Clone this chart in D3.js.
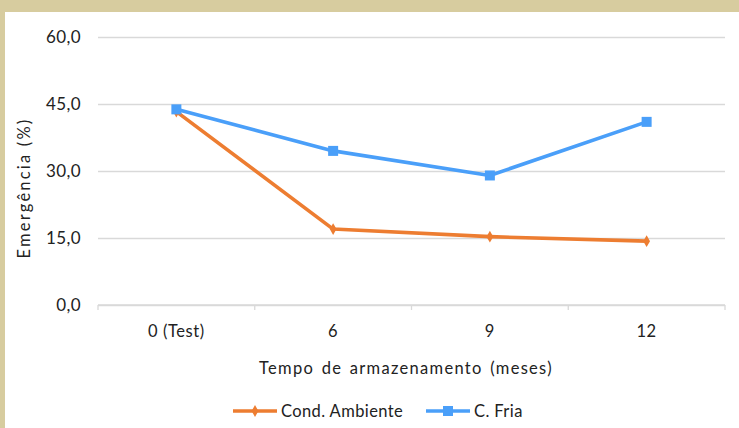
<!DOCTYPE html>
<html>
  <head>
    <meta charset="utf-8">
    <script src="https://d3js.org/d3.v7.min.js"></script>
    <style>
      body { margin: 0px; background: #D7CC9F; }
      svg { position: absolute; left: 5px; top: 12px; background: #fff; }
      .domain { display: none; }
      text { font-family: Lato, "Open Sans", sans-serif; fill: #222; }
    </style>
  </head>
  <body>
    <svg width="734" height="416"></svg>
    <script>
      const categories = ['0 (Test)', '6', '9', '12'];
      const ambiente = [43.3, 17.0, 15.3, 14.3];
      const fria = [43.8, 34.5, 29.0, 41.0];
      const yTicks = [0, 15, 30, 45, 60];
      const seriesNames = ['Cond. Ambiente', 'C. Fria'];
      const colors = ['#ED7D31', '#4A9FF9'];

      // page coordinates; the svg sits 5px right and 12px down inside the frame
      const root = d3.select('svg').append('g').attr('transform', 'translate(-5,-12)');

      const margin = { left: 98, top: 37, right: 14, bottom: 123 };
      const innerWidth = 739 - margin.left - margin.right;
      const innerHeight = 428 - margin.top - margin.bottom;

      const g = root.append('g').attr('transform', `translate(${margin.left},${margin.top})`);

      const xScale = d3.scaleBand().domain(categories).range([0, innerWidth]);
      const yScale = d3.scaleLinear().domain([0, 60]).range([innerHeight, 0]);

      // gridlines + y labels
      const yAxis = d3.axisLeft(yScale).tickValues(yTicks).tickSize(-innerWidth).tickPadding(17)
        .tickFormat(d => d3.format('.1f')(d).replace('.', ','));
      const yAxisG = g.append('g').call(yAxis).attr('font-size', null).attr('font-family', null);
      yAxisG.selectAll('.tick line').attr('stroke', '#D9D9D9').attr('stroke-width', 1.3);
      yAxisG.selectAll('.tick text').style('font-size', '17px').style('letter-spacing', '0.4px').attr('fill', '#222');

      // x axis
      const xAxisG = g.append('g').attr('transform', `translate(0,${innerHeight})`);
      xAxisG.append('line').attr('x1', 0).attr('x2', innerWidth).attr('stroke', '#D9D9D9').attr('stroke-width', 1.3);
      const bounds = categories.map(c => xScale(c)).concat([innerWidth]);
      xAxisG.selectAll('.xtick').data(bounds).enter().append('line')
        .attr('x1', d => d).attr('x2', d => d).attr('y1', 0).attr('y2', 5)
        .attr('stroke', '#D9D9D9').attr('stroke-width', 1.3);
      xAxisG.selectAll('.xlab').data(categories).enter().append('text')
        .attr('x', d => xScale(d) + xScale.bandwidth() / 2)
        .attr('y', 32).attr('text-anchor', 'middle').style('font-size', '16.5px').style('letter-spacing', '0.6px')
        .text(d => d);

      const xCenter = c => xScale(c) + xScale.bandwidth() / 2;
      const line = d3.line().x((d, i) => xCenter(categories[i])).y(d => yScale(d));

      [ambiente, fria].forEach((s, k) => {
        g.append('path').datum(s).attr('d', line).attr('fill', 'none')
          .attr('stroke', colors[k]).attr('stroke-width', 3.6).attr('stroke-linejoin', 'round');
      });
      g.selectAll('.m1').data(ambiente).enter().append('path')
        .attr('d', d3.symbol(d3.symbolDiamond, 40))
        .attr('transform', (d, i) => `translate(${xCenter(categories[i])},${yScale(d)})`)
        .attr('fill', colors[0]);
      g.selectAll('.m2').data(fria).enter().append('rect')
        .attr('x', (d, i) => xCenter(categories[i]) - 5).attr('y', d => yScale(d) - 5)
        .attr('width', 10).attr('height', 10).attr('fill', colors[1]);

      // axis titles
      root.append('text').attr('transform', 'translate(30,188) rotate(-90)')
        .attr('text-anchor', 'middle').style('font-size', '16.5px').style('letter-spacing', '2.2px')
        .text('Emergência (%)');
      root.append('text').attr('x', 406).attr('y', 374).attr('text-anchor', 'middle')
        .style('font-size', '16.5px').style('letter-spacing', '1.3px').style('word-spacing', '2px')
        .text('Tempo de armazenamento (meses)');

      // legend
      const legendX = [233, 426];
      seriesNames.forEach((name, k) => {
        const lg = root.append('g').attr('transform', `translate(${legendX[k]},411)`);
        lg.append('line').attr('x1', 0).attr('x2', 44).attr('stroke', colors[k]).attr('stroke-width', 3.6);
        if (k === 0) {
          lg.append('path').attr('d', d3.symbol(d3.symbolDiamond, 40)).attr('transform', 'translate(22,0)').attr('fill', colors[k]);
        } else {
          lg.append('rect').attr('x', 17).attr('y', -5).attr('width', 10).attr('height', 10).attr('fill', colors[k]);
        }
        lg.append('text').attr('x', 48).attr('y', 6).style('font-size', '16.5px').style('letter-spacing', '0.4px').text(name);
      });
    </script>
  </body>
</html>
